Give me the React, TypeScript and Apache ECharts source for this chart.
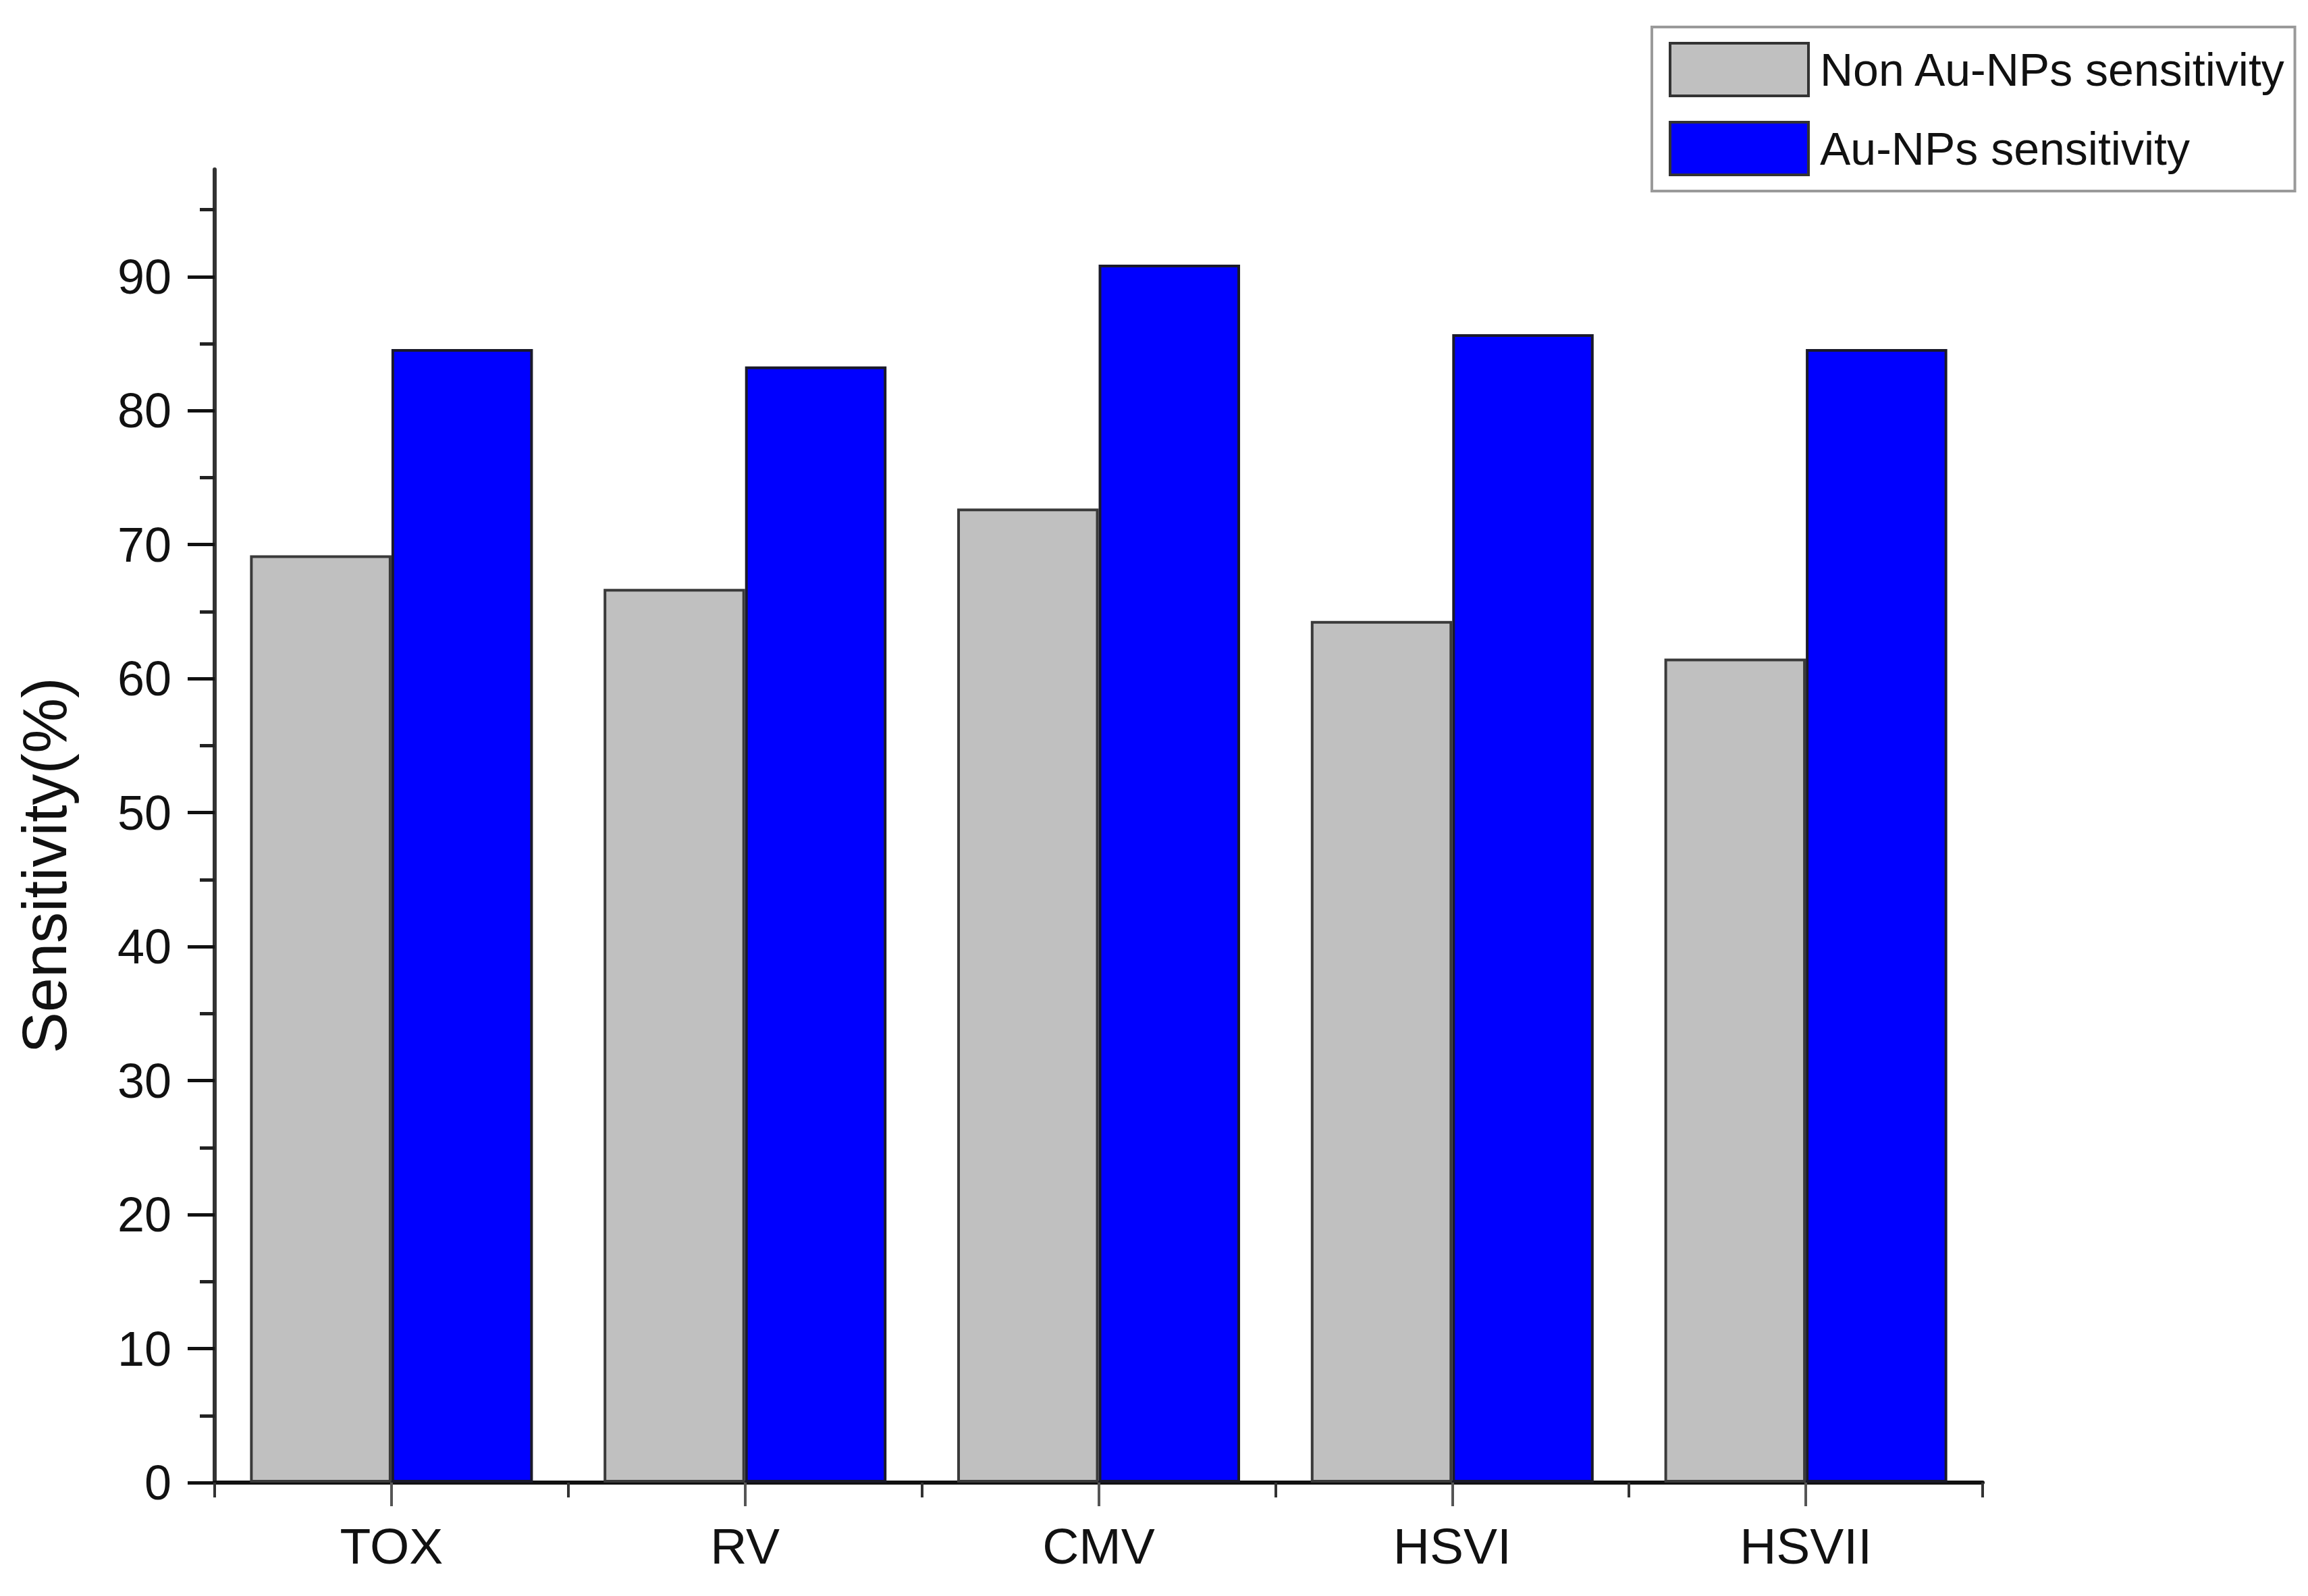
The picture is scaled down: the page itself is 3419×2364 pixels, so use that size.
import React, { useEffect, useRef } from "react";
import * as echarts from "echarts";

const categories = ["TOX", "RV", "CMV", "HSVI", "HSVII"];
const nonAuSensitivity = [69.2, 66.7, 72.7, 64.3, 61.5];
const auSensitivity = [84.6, 83.3, 90.9, 85.7, 84.6];
const majorTicks = [0, 10, 20, 30, 40, 50, 60, 70, 80, 90];
const minorTicks = [5, 15, 25, 35, 45, 55, 65, 75, 85, 95];
const seriesNames = ["Non Au-NPs sensitivity", "Au-NPs sensitivity"];
const yTitle = "Sensitivity(%)";

const FONT = "'Liberation Sans', Arial, sans-serif";

export default function App() {
  const ref = useRef<HTMLDivElement>(null);
  useEffect(() => {
    document.body.style.margin = "0";
    const chart = echarts.init(ref.current!, null, { renderer: "svg" });
    const grid = { left: 318, right: 482, top: 251, bottom: 168 };
    chart.setOption({
      animation: false,
      backgroundColor: "#ffffff",
      grid,
      legend: {
        orient: "vertical",
        left: 2447,
        top: 40,
        padding: [22, 12, 22, 25],
        itemWidth: 205,
        itemHeight: 78,
        itemGap: 35,
        icon: "rect",
        borderColor: "#9a9a9a",
        borderWidth: 4,
        backgroundColor: "#ffffff",
        textStyle: { fontFamily: FONT, fontSize: 68, color: "#111", padding: [0, 0, 0, 12] },
        itemStyle: { borderColor: "#333", borderWidth: 4 },
        data: seriesNames,
      },
      xAxis: [
        {
          type: "category",
          data: categories,
          position: "bottom",
          boundaryGap: true,
          axisLine: { show: true, lineStyle: { color: "#111", width: 6 } },
          axisTick: { show: true, alignWithLabel: true, length: 35, lineStyle: { color: "#555", width: 4 } },
          axisLabel: { fontFamily: FONT, fontSize: 75, color: "#111", margin: 56 },
          splitLine: { show: false },
        },
        {
          type: "category",
          data: categories,
          position: "bottom",
          boundaryGap: true,
          axisLine: { show: false },
          axisTick: { show: true, length: 22, lineStyle: { color: "#333", width: 4 } },
          axisLabel: { show: false },
          splitLine: { show: false },
        },
      ],
      yAxis: [
        {
          type: "value",
          min: 0,
          max: 98,
          interval: 10,
          axisLine: { show: true, lineStyle: { color: "#333", width: 6 } },
          axisTick: { show: true, length: 40, customValues: majorTicks, lineStyle: { color: "#111", width: 5 } },
          axisLabel: { fontFamily: FONT, fontSize: 72, color: "#111", margin: 64, customValues: majorTicks },
          splitLine: { show: false },
        },
        {
          type: "value",
          min: 0,
          max: 98,
          position: "left",
          axisLine: { show: false },
          axisTick: { show: true, length: 22, customValues: minorTicks, lineStyle: { color: "#222", width: 5 } },
          axisLabel: { show: false },
          splitLine: { show: false },
        },
      ],
      series: [
        {
          name: seriesNames[0],
          type: "bar",
          data: nonAuSensitivity,
          barGap: "0%",
          barCategoryGap: "20%",
          itemStyle: { color: "#c0c0c0", borderColor: "#3a3a3a", borderWidth: 4 },
        },
        {
          name: seriesNames[1],
          type: "bar",
          data: auSensitivity,
          barGap: "0%",
          barCategoryGap: "20%",
          itemStyle: { color: "#0000ff", borderColor: "#1a1a2a", borderWidth: 4 },
        },
      ],
      graphic: [
        {
          type: "text",
          x: 66,
          y: 1282,
          rotation: Math.PI / 2,
          style: {
            text: yTitle,
            fontFamily: FONT,
            fontSize: 92,
            fill: "#111",
            align: "center",
            verticalAlign: "middle",
          },
        },
      ],
    });
    return () => chart.dispose();
  }, []);
  return <div ref={ref} style={{ width: 3419, height: 2364 }} />;
}
